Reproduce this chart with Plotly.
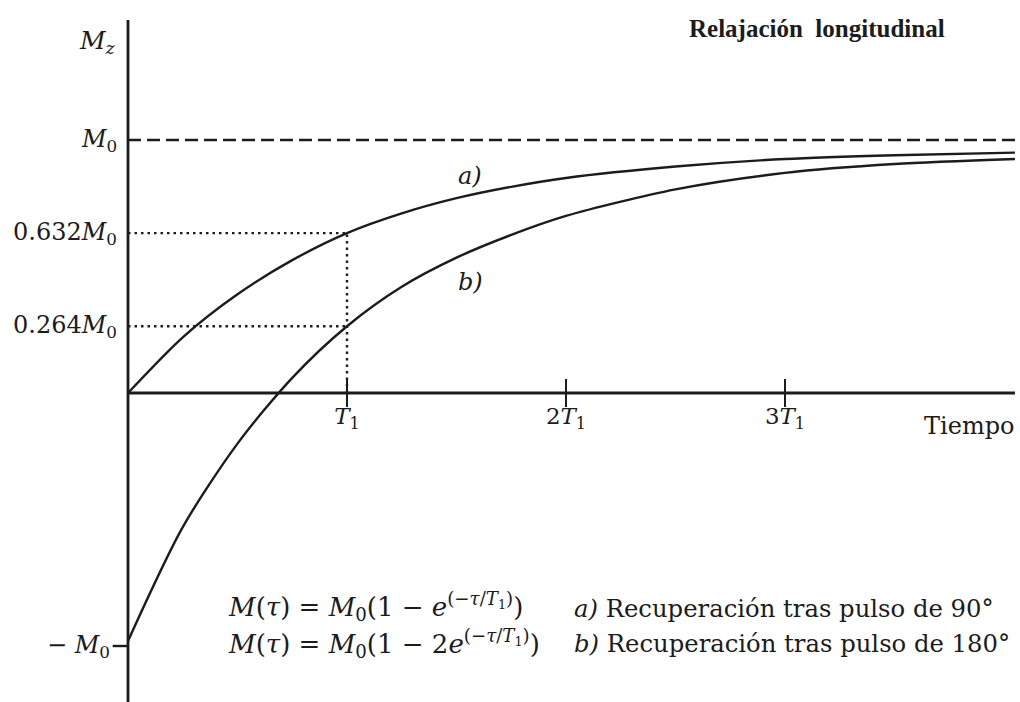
import plotly.graph_objects as go

# Time in units of T1, magnetisation in units of M0
t_a = [0, 0.25, 0.5, 0.75, 1.0, 1.25, 1.5, 1.75, 2.0, 2.5, 3.0, 3.5, 4.05]
m_a = [0, 0.22, 0.39, 0.525, 0.632, 0.71, 0.77, 0.815, 0.85, 0.895, 0.925, 0.94, 0.95]

t_b = [0, 0.25, 0.5, 0.75, 1.0, 1.25, 1.5, 1.75, 2.0, 2.5, 3.0, 3.5, 4.05]
m_b = [-0.98, -0.53, -0.20, 0.06, 0.264, 0.42, 0.535, 0.625, 0.70, 0.805, 0.87, 0.905, 0.925]

x_ticks = [1, 2, 3]
x_tick_text = ["<i>T</i><sub>1</sub>", "2<i>T</i><sub>1</sub>", "3<i>T</i><sub>1</sub>"]
y_marks = [1.0, 0.632, 0.264, -1.0]
y_mark_text = ["<i>M</i><sub>0</sub>", "0.632<i>M</i><sub>0</sub>",
               "0.264<i>M</i><sub>0</sub>", "− <i>M</i><sub>0</sub>"]

W, H = 1020, 702
ML, MR = 60, 4
X0_PX, T1_PX = 128, 219      # origin and one T1 in pixels
Y0_PX, M0_PX = 393, 253      # zero line and one M0 in pixels

x_range = [(ML - X0_PX) / T1_PX, (W - MR - X0_PX) / T1_PX]
y_range = [-(H - Y0_PX) / M0_PX, Y0_PX / M0_PX]
t_end = 4.05
y_top = (Y0_PX - 20) / M0_PX

INK = "#1c1c1c"
SERIF = "DejaVu Serif"
TITLE_FONT = "Liberation Serif"


def px_x(px):
    return (px - ML) / (W - ML - MR)


def px_y(py):
    return 1 - py / H


fig = go.Figure()

# Recovery curves
curve_line = dict(color=INK, width=2.4, shape="spline", smoothing=0.8)
fig.add_trace(go.Scatter(x=t_a, y=m_a, mode="lines", line=curve_line))
fig.add_trace(go.Scatter(x=t_b, y=m_b, mode="lines", line=curve_line))

# Tick marks across the time axis with their labels
fig.add_trace(go.Scatter(
    x=x_ticks, y=[0] * len(x_ticks), mode="markers+text",
    marker=dict(symbol="line-ns-open", size=20, color=INK, line=dict(color=INK, width=2)),
    text=x_tick_text, textposition="bottom center",
    textfont=dict(family=SERIF, size=23, color=INK),
))

dot = dict(color=INK, width=2.4, dash="2.5px,4px")
shapes = [
    # axes
    dict(type="line", xref="x", yref="y", x0=0, x1=0, y0=y_range[0], y1=y_top, line=dict(color=INK, width=2.8)),
    dict(type="line", xref="x", yref="y", x0=0, x1=t_end, y0=0, y1=0, line=dict(color=INK, width=2.8)),
    # asymptote M0
    dict(type="line", xref="x", yref="y", x0=0, x1=t_end, y0=1, y1=1, line=dict(color=INK, width=2.4, dash="13px,6px")),
    # dotted guides at T1
    dict(type="line", xref="x", yref="y", x0=0, x1=1, y0=m_a[4], y1=m_a[4], line=dot),
    dict(type="line", xref="x", yref="y", x0=0, x1=1, y0=m_b[4], y1=m_b[4], line=dot),
    dict(type="line", xref="x", yref="y", x0=1, x1=1, y0=0, y1=m_a[4], line=dot),
    # tick at -M0
    dict(type="line", xref="x", yref="y", x0=-0.07, x1=0, y0=-1, y1=-1, line=dict(color=INK, width=2.4)),
]

annotations = []
for v, txt in zip(y_marks, y_mark_text):
    annotations.append(dict(x=-0.072 if v == -1 else -0.04, y=v, xref="x", yref="y", text=txt,
                            showarrow=False, xanchor="right", yanchor="middle",
                            font=dict(family=SERIF, size=24, color=INK)))

annotations += [
    dict(x=px_x(118), y=px_y(42), xref="paper", yref="paper", text="<i>M<sub>z</sub></i>",
         showarrow=False, xanchor="right", yanchor="middle", font=dict(family=SERIF, size=25, color=INK)),
    dict(x=px_x(947), y=px_y(28), xref="paper", yref="paper", text="<b>Relajación  longitudinal</b>",
         showarrow=False, xanchor="right", yanchor="middle", font=dict(family=TITLE_FONT, size=25, color=INK)),
    dict(x=px_x(1016), y=px_y(426), xref="paper", yref="paper", text="Tiempo",
         showarrow=False, xanchor="right", yanchor="middle", font=dict(family=SERIF, size=24, color=INK)),
    dict(x=px_x(470), y=px_y(176), xref="paper", yref="paper", text="<i>a)</i>",
         showarrow=False, xanchor="center", yanchor="middle", font=dict(family=SERIF, size=24, color=INK)),
    dict(x=px_x(470), y=px_y(282), xref="paper", yref="paper", text="<i>b)</i>",
         showarrow=False, xanchor="center", yanchor="middle", font=dict(family=SERIF, size=24, color=INK)),
    dict(x=px_x(226), y=px_y(606), xref="paper", yref="paper",
         text="<i>M</i>(<i>τ</i>) = <i>M</i><sub>0</sub>(1 − <i>e</i><sup>(−<i>τ</i>/<i>T</i><sub>1</sub>)</sup>)",
         showarrow=False, xanchor="left", yanchor="middle", font=dict(family=SERIF, size=26, color=INK)),
    dict(x=px_x(226), y=px_y(643), xref="paper", yref="paper",
         text="<i>M</i>(<i>τ</i>) = <i>M</i><sub>0</sub>(1 − 2<i>e</i><sup>(−<i>τ</i>/<i>T</i><sub>1</sub>)</sup>)",
         showarrow=False, xanchor="left", yanchor="middle", font=dict(family=SERIF, size=26, color=INK)),
    dict(x=px_x(572), y=px_y(608), xref="paper", yref="paper",
         text="<i>a)</i> Recuperación tras pulso de 90°",
         showarrow=False, xanchor="left", yanchor="middle", font=dict(family=SERIF, size=24.3, color=INK)),
    dict(x=px_x(572), y=px_y(643), xref="paper", yref="paper",
         text="<i>b)</i> Recuperación tras pulso de 180°",
         showarrow=False, xanchor="left", yanchor="middle", font=dict(family=SERIF, size=24.3, color=INK)),
]

fig.update_layout(
    width=W, height=H,
    margin=dict(l=ML, r=MR, t=0, b=0),
    paper_bgcolor="white", plot_bgcolor="white",
    showlegend=False,
    xaxis=dict(range=x_range, visible=False, fixedrange=True),
    yaxis=dict(range=y_range, visible=False, fixedrange=True),
    shapes=shapes, annotations=annotations,
)

fig.write_html("out.html")
